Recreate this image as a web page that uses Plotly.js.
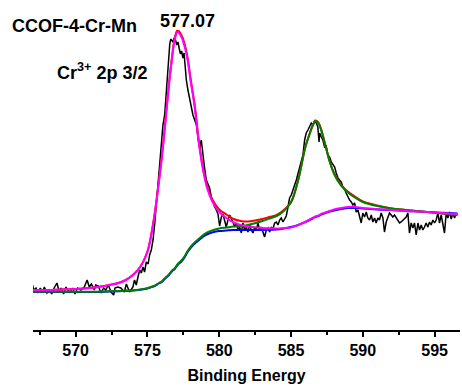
<!DOCTYPE html>
<html>
<head>
<meta charset="utf-8">
<script src="https://cdn.plot.ly/plotly-3.0.1.min.js"></script>
<style>html,body{margin:0;padding:0;background:#fff;}#chart{width:462px;height:387px;}</style>
</head>
<body>
<div id="chart"></div>
<script>
// Raw XPS data (binding energy, intensity)
const dataE = [567.0,567.08,567.24,567.35,567.54,567.7,567.82,568.0,568.17,568.33,568.5,568.7,568.86,568.98,569.16,569.33,569.44,569.63,569.79,569.95,570.14,570.37,570.6,570.8,570.95,571.1,571.3,571.4,571.58,571.76,571.95,572.1,572.28,572.46,572.65,572.74,572.93,573.15,573.39,573.53,573.76,573.99,574.1,574.22,574.34,574.46,574.57,574.69,574.8,574.92,575.05,575.15,575.27,575.39,575.5,575.62,575.73,575.85,575.97,576.08,576.2,576.31,576.43,576.55,576.62,576.7,576.78,576.86,576.96,577.04,577.13,577.22,577.3,577.38,577.47,577.55,577.62,577.71,577.82,577.94,578.05,578.17,578.29,578.41,578.52,578.64,578.75,578.87,578.98,579.1,579.22,579.33,579.45,579.56,579.68,579.8,579.91,580.03,580.15,580.26,580.38,580.49,580.61,580.73,580.85,580.96,581.07,581.19,581.31,581.42,581.54,581.65,581.77,581.89,582.0,582.12,582.23,582.35,582.47,582.58,582.7,582.81,582.93,583.05,583.16,583.28,583.4,583.51,583.63,583.74,583.86,583.98,584.09,584.21,584.32,584.44,584.56,584.67,584.79,584.9,585.02,585.13,585.25,585.37,585.48,585.6,585.72,585.83,585.95,586.06,586.18,586.3,586.41,586.53,586.64,586.76,586.87,586.95,587.0,587.11,587.22,587.34,587.45,587.57,587.69,587.8,587.92,588.04,588.15,588.27,588.38,588.5,588.61,588.73,588.84,588.97,589.08,589.2,589.31,589.43,589.54,589.66,589.77,589.89,590.0,590.12,590.24,590.35,590.47,590.59,590.7,590.82,590.93,591.05,591.16,591.28,591.4,591.51,591.63,591.75,591.86,591.98,592.09,592.21,592.33,592.44,592.56,592.67,592.79,592.91,593.02,593.14,593.25,593.37,593.49,593.6,593.72,593.84,593.95,594.07,594.18,594.3,594.41,594.53,594.65,594.76,594.88,595.0,595.11,595.23,595.34,595.46,595.58,595.69,595.81,595.92,596.04,596.16,596.27,596.39,596.5];
const dataI = [45,40,42,37,42,38,43,37,40,36,42,47,38,42,36,43,40,38,42,36,42,40,43,50,43,46,40,45,44,37,42,40,45,38,35,42,43,42,38,46,38,43,50,45,53,60,57,63,58,68,66,75,80,90,105,125,145,163,183,205,215,238,265,285,291,289,288,292,290,285,288,281,276,279,272,277,262,250,240,230,222,215,210,205,192,182,190,172,162,150,145,142,133,127,123,120,116,104,113,116,110,103,110,115,111,108,103,107,100,103,97,107,100,103,98,105,100,97,103,100,107,100,103,97,93,100,102,98,103,101,107,108,105,110,112,108,112,114,123,132,135,140,143,150,156,163,170,175,190,197,200,203,207,205,209,207,203,188,197,193,190,183,184,175,173,168,165,163,157,152,150,148,143,141,137,133,130,128,125,127,118,120,113,107,117,113,118,112,110,115,108,112,107,112,110,117,112,98,108,113,117,115,113,115,112,110,107,108,110,112,113,117,97,107,102,107,95,107,100,105,100,103,107,103,108,105,110,107,110,117,107,115,107,97,117,112,118,111,117,112,117];

// Fit curves
const fitE = [567.0,568,569,570,571,572,573,573.5,574,574.5,575,575.2,575.5,575.8,576.0,576.2,576.5,576.7,576.9,577.1,577.4,577.6,577.8,578.0,578.3,578.6,578.9,579.2,579.5,580,580.5,581,581.5,582,583,583.5,584,584.5,585,585.5,586,586.3,586.5,586.7,586.9,587.1,587.4,587.7,588,588.5,589,589.5,590,591,592,593,594,595,596,596.6];
// background (blue)
const bgI = [38,38,38,38,38,38.3,38.8,39.1,39.5,40.3,41.5,42.5,44,46.5,48,51,55,58.5,61,65,69,73,78,82,86.5,90,93.5,96,97.5,99,99.5,100,100,100,100,100.3,100.5,101.5,103,105,108,110,111.5,113,114,115.3,117,118.5,119.5,121,122,122,121.5,120.5,120,119,118.5,117.5,117,116.5];
// peak 2 + background (green)
const pk2I = [38.3,38.3,38.3,38.3,38.3,38.6,39.1,39.4,39.8,40.6,41.9,42.9,44.4,47,48.6,51.6,55.6,59.2,61.7,65.8,70,74,79,83,87.8,91.5,95.2,97.8,99.5,101.5,102.5,103.5,104,105,109,111.5,114,119,128,150,183,196,204,209,207,200,184,168,156,144,137,132,128,124,121.5,120,118.5,117.5,116,115.5];
// peak 1 + background (magenta)
const pk1I = [40,40,40.5,41,42,44,47,50,55,63,78,90,115,148,172,200,245,270,290,298,292,283,270,250,222,185,158,140,129,118,112,107.5,105,103.5,102,101.8,101.5,102,102.5,105,108,110.5,112,113.5,114.5,116,117.5,119,120.5,122,123,123,122,121,120,119,118.5,117.5,116.5,116];
// envelope (red)
const envI = [40,40,40.5,41,42,44,47.2,50.2,55.2,63.2,78.5,90.5,116,149,173,201,246.5,271.5,292,300,294,285.5,272,252,224,187,160,142,131,120.5,115.5,111,109,108.5,111,113,115,120,127.5,150,183,196.5,204.5,209.5,207.5,200.7,184.5,168.5,157,145,138,133,128.5,124.5,121.5,120,118.5,117.5,115.5,115];

const energyTicks = [570,575,580,585,590,595];
const energyTickText = ['570','575','580','585','590','595'];
const minorTicks = [567.5,572.5,577.5,582.5,587.5,592.5];

const FONT = 'Liberation Sans, Arial, sans-serif';

const traces = [
  {x: dataE, y: dataI, mode: 'lines', line: {color: '#000000', width: 1.5}, hoverinfo: 'skip'},
  {x: fitE, y: bgI, mode: 'lines', line: {color: '#0000FF', width: 2, shape: 'spline'}, hoverinfo: 'skip'},
  {x: fitE, y: envI, mode: 'lines', line: {color: '#FF0000', width: 2, shape: 'spline'}, hoverinfo: 'skip'},
  {x: fitE, y: pk2I, mode: 'lines', line: {color: '#008000', width: 2, shape: 'spline'}, hoverinfo: 'skip'},
  {x: fitE, y: pk1I, mode: 'lines', line: {color: '#FF00FF', width: 2, shape: 'spline'}, hoverinfo: 'skip'}
];

const layout = {
  width: 462, height: 387,
  margin: {l: 33, r: 2, t: 30, b: 57},
  paper_bgcolor: '#ffffff', plot_bgcolor: '#ffffff',
  showlegend: false,
  xaxis: {
    range: [567.03, 596.77],
    showline: true, linecolor: '#000', linewidth: 2,
    showgrid: false, zeroline: false,
    ticks: 'outside', ticklen: 5, tickwidth: 2, tickcolor: '#000',
    tickmode: 'array', tickvals: energyTicks, ticktext: energyTickText,
    tickfont: {family: FONT, size: 16, color: '#000', weight: 700},
    minor: {tickmode: 'array', tickvals: minorTicks, ticks: 'outside', ticklen: 3, tickwidth: 2, tickcolor: '#000', showgrid: false},
    title: {text: 'Binding Energy', font: {family: FONT, size: 16, color: '#000', weight: 700}, standoff: 12}
  },
  yaxis: {range: [0, 300], visible: false, showgrid: false, zeroline: false},
  annotations: [
    {xref: 'paper', yref: 'paper', x: (10-33)/427, y: (330-26)/300, xanchor: 'left', yanchor: 'middle', showarrow: false,
     text: 'CCOF-4-Cr-Mn', font: {family: FONT, size: 18, color: '#000', weight: 700}},
    {xref: 'paper', yref: 'paper', x: (187-33)/427, y: (330-21)/300, xanchor: 'center', yanchor: 'middle', showarrow: false,
     text: '577.07', font: {family: FONT, size: 18, color: '#000', weight: 700}},
    {xref: 'paper', yref: 'paper', x: (55-33)/427, y: (330-71)/300, xanchor: 'left', yanchor: 'middle', showarrow: false,
     text: 'Cr<sup>3+</sup> 2p 3/2', font: {family: FONT, size: 18, color: '#000', weight: 700}}
  ]
};

Plotly.newPlot('chart', traces, layout, {staticPlot: true, displayModeBar: false});
</script>
</body>
</html>
